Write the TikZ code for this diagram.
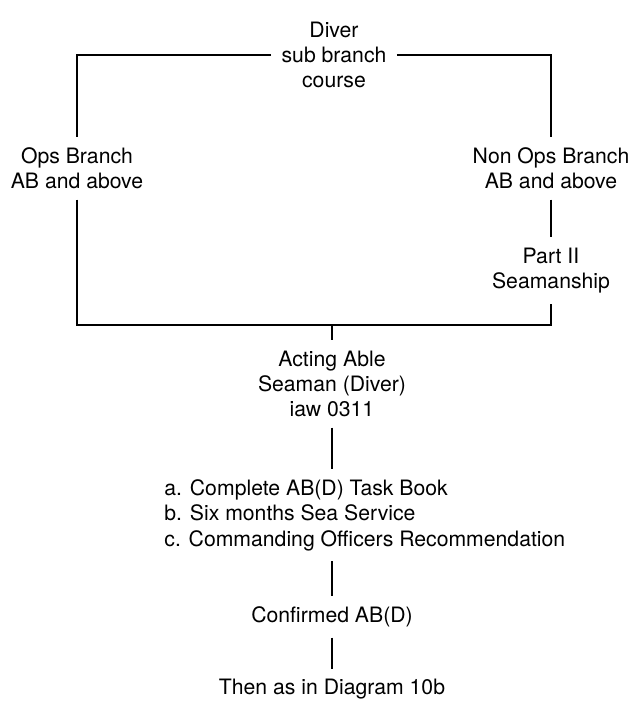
\documentclass[tikz,border=0pt]{standalone}
\usepackage{fontspec}
\setmainfont{TeX Gyre Heros}
\usetikzlibrary{calc, positioning}

\tikzset{
  stage/.style={align=center, inner sep=5pt, font=\fontsize{10.6pt}{12.7pt}\selectfont},
  link/.style={line width=1pt, black}
}

\begin{document}
\begin{tikzpicture}[x=0.5pt,y=-0.5pt]
\useasboundingbox (0,0) rectangle (634,701);

\node[stage] (diver) at (334,55) {Diver\\sub branch\\course};
\node[stage] (ops) at (77,168.5) {Ops Branch\\AB and above};
\node[stage] (nonops) at (551,168.5) {Non Ops Branch\\AB and above};
\node[stage] (part) at (551,270.5) {Part II\\Seamanship};
\coordinate (join) at (332,325);
\node[stage] (acting) at (332,384) {Acting Able\\Seaman (Diver)\\iaw 0311};
\node[stage, align=left, anchor=west] (reqs) at (154,515) {a. Complete AB(D) Task Book\\b. Six months Sea Service\\c. Commanding Officers Recommendation};
\node[stage] (confirmed) at (332,617) {Confirmed AB(D)};
\node[stage] (then) at (332,689) {Then as in Diagram 10b};

\draw[link] (diver.west) -| (ops.north);
\draw[link] (diver.east) -| (nonops.north);
\draw[link] (nonops.south) -- (part.north);
\draw[link] (ops.south) |- (join) -| (part.south);
\draw[link] (join) -- (acting.north);
\draw[link] (acting.south) -- (acting.south |- reqs.north);
\draw[link] (confirmed.north |- reqs.south) -- (confirmed.north);
\draw[link] (confirmed.south) -- (then.north);
\end{tikzpicture}
\end{document}
